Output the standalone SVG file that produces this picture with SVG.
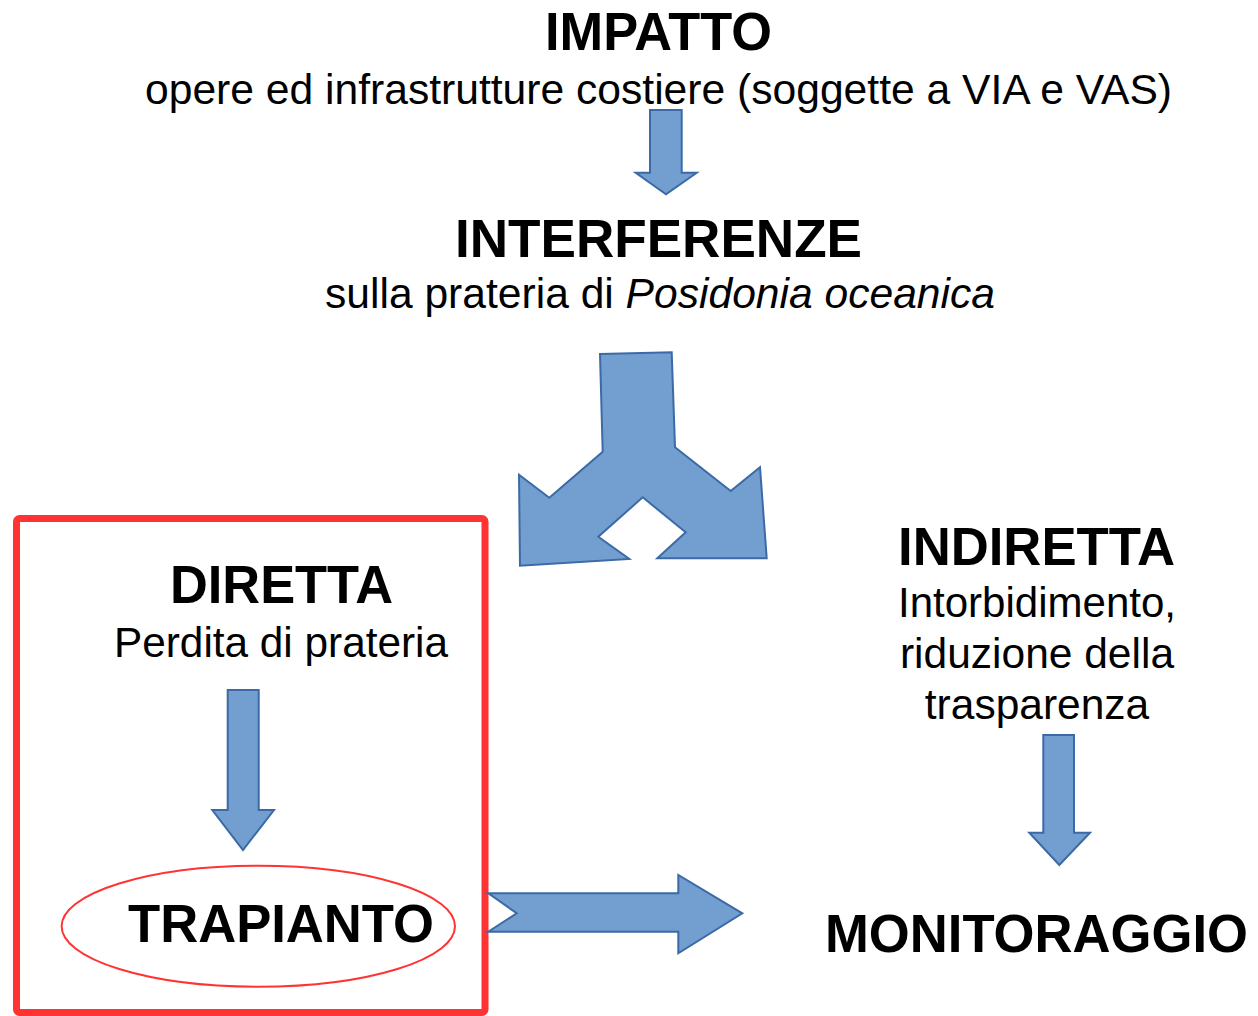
<svg xmlns="http://www.w3.org/2000/svg" width="1258" height="1016" viewBox="0 0 1258 1016">
<style>
text{font-family:"Liberation Sans",Arial,sans-serif;fill:#000;text-anchor:middle}
.h{font-weight:bold;font-size:53px}
.s{font-size:42.5px}
.arr{fill:#729fcf;stroke:#3b6aa6;stroke-width:2;stroke-linejoin:miter}
</style>
<rect width="1258" height="1016" fill="#fff"/>
<g id="impatto">
<text class="h" x="658.5" y="50" font-size="52" textLength="227" lengthAdjust="spacingAndGlyphs">IMPATTO</text>
<text class="s" x="658.5" y="104" textLength="1027" lengthAdjust="spacingAndGlyphs">opere ed infrastrutture costiere (soggette a VIA e VAS)</text>
</g>
<g id="interferenze">
<text class="h" x="658.5" y="257" font-size="56" textLength="407" lengthAdjust="spacingAndGlyphs">INTERFERENZE</text>
<text class="s" x="660" y="308" textLength="670" lengthAdjust="spacingAndGlyphs">sulla prateria di <tspan font-style="italic">Posidonia oceanica</tspan></text>
</g>
<g id="diretta">
<rect x="16.5" y="518.5" width="468.5" height="494" rx="3" fill="none" stroke="#ff3333" stroke-width="7"/>
<text class="h" x="281.5" y="603" textLength="223" lengthAdjust="spacingAndGlyphs">DIRETTA</text>
<text class="s" x="281" y="657" textLength="334" lengthAdjust="spacingAndGlyphs">Perdita di prateria</text>
</g>
<g id="trapianto">
<ellipse cx="258.3" cy="926.2" rx="196.7" ry="60.5" fill="none" stroke="#ff3333" stroke-width="2"/>
<text class="h" x="281" y="942" textLength="306" lengthAdjust="spacingAndGlyphs">TRAPIANTO</text>
</g>
<g id="indiretta">
<text class="h" x="1036.5" y="565" textLength="277" lengthAdjust="spacingAndGlyphs">INDIRETTA</text>
<text class="s" x="1037" y="617" textLength="278" lengthAdjust="spacingAndGlyphs">Intorbidimento,</text>
<text class="s" x="1037" y="668">riduzione della</text>
<text class="s" x="1037" y="719">trasparenza</text>
</g>
<g id="monitoraggio">
<text class="h" x="1036.5" y="952" textLength="423" lengthAdjust="spacingAndGlyphs">MONITORAGGIO</text>
</g>
<g id="connectors">
<polygon class="arr" points="650,110 681.7,110 681.7,172.7 696.7,172.7 666,194.3 635.7,172.7 650,172.7"/>
<polygon class="arr" points="600,354 671.7,352.3 675,447.3 730.7,491 760,467.3 766.7,558.3 657.3,558.3 685.7,532.3 642.7,497.3 598.3,536.7 629.3,559 520,565.7 519,474.7 549.3,497.7 602.7,451.7"/>
<polygon class="arr" points="227.7,690 258.7,690 258.7,810 274,810 243,850 212.3,810 227.7,810"/>
<polygon class="arr" points="488.3,893.3 678.3,893.3 678.3,875 742.3,913.3 678.3,953.3 678.3,931.7 488.3,931.7 516.7,913.3"/>
<polygon class="arr" points="1043.3,735 1074,735 1074,832.7 1090,832.7 1059.3,865 1029.3,832.7 1043.3,832.7"/>
</g>
</svg>
